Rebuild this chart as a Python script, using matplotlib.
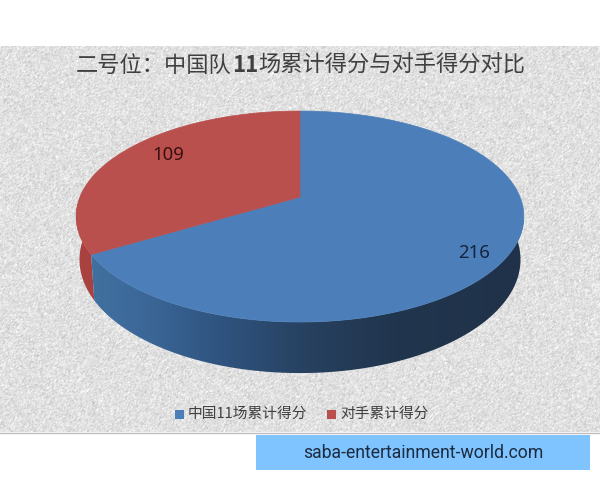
import numpy as np
import matplotlib
matplotlib.use('Agg')
import matplotlib.pyplot as plt
from matplotlib.colors import LinearSegmentedColormap
from matplotlib.patches import Polygon, Rectangle

plt.rcParams['font.family'] = ['Noto Sans CJK SC', 'DejaVu Sans']

# data
names = ['中国11场累计得分', '对手累计得分']
values = [216, 109]
title_parts = ['二号位：中国队', '11', '场累计得分与对手得分对比']
watermark = 'saba-entertainment-world.com'

top_colors = ['#4c7fb9', '#b9504e']

# pie projection, in pixels
cx, cy = 300, 197
rx, ry, k = 220, 101.9, 0.185
depth = 41.6


def rim(t, d=0.0, shrink=1.0):
    # t is clockwise from 12 o'clock, perspective makes the back smaller
    u, v = np.sin(t), np.cos(t)
    w = 1 + k * v
    return np.column_stack([cx + shrink * rx * u / w, cy + (d - ry * v) / w])


fig = plt.figure(figsize=(6, 4.8), dpi=100)
ax = fig.add_axes([0, 0, 1, 1])

# paper texture of the background
rng = np.random.default_rng(3)
noise = rng.normal(0, 15, (386, 600))
noise = (noise + np.roll(noise, 1, axis=0) + np.roll(noise, 1, axis=1)) / 3
noise = noise + 224
ax.imshow(noise, cmap='gray', vmin=0, vmax=255, extent=[0, 600, 432, 46],
          aspect='auto', interpolation='bilinear', zorder=0)
ax.plot([0, 600], [432.5, 432.5], color='#bdbdbd', lw=1, zorder=1)

edges = np.cumsum([0] + values) / sum(values) * 2 * np.pi

# side wall, red part first
t = np.linspace(edges[1], np.radians(285), 60)
ax.add_patch(Polygon(np.vstack([rim(t), rim(t, depth, 0.985)[::-1]]), fc='#a8413f', ec='none', zorder=2))

t = np.linspace(np.radians(70), edges[1], 150)
side = Polygon(np.vstack([rim(t), rim(t, depth, 0.985)[::-1]]), fc='none', ec='none', zorder=3)
ax.add_patch(side)
side_cmap = LinearSegmentedColormap.from_list('side', [
    (0.0, '#41719f'), (0.12, '#3c6899'), (0.3, '#2f5480'), (0.5, '#27415f'),
    (0.7, '#21354e'), (1.0, '#1f3249')])
grad = ax.imshow(np.linspace(1, 0, 256)[None, :], cmap=side_cmap.reversed(), extent=[88, 526, 380, 220],
                 aspect='auto', zorder=3)
grad.set_clip_path(side)

# top of the pie
for i in range(len(values)):
    t = np.linspace(edges[i], edges[i + 1], 200)
    ax.add_patch(Polygon(np.vstack([[cx, cy], rim(t)]), fc=top_colors[i], ec=top_colors[i], lw=0.5, zorder=4))

# data labels
ax.text(474, 253, str(values[0]), color='#14233f', fontsize=13.4, family='Noto Sans',
        ha='center', va='center', zorder=5)
ax.text(168, 155, str(values[1]), color='#3a1010', fontsize=13.4, family='Noto Sans',
        ha='center', va='center', zorder=5)

# title, the number is bold
fig.canvas.draw()
rend = fig.canvas.get_renderer()
x = 76
for i, part in enumerate(title_parts):
    txt = ax.text(x, 65, part, fontsize=16, color='#404040', va='center', ha='left',
                  fontweight='bold' if i == 1 else 'normal', zorder=5)
    x += txt.get_window_extent(rend).width

# legend
ax.add_patch(Rectangle((175, 410), 8.5, 8.5, fc=top_colors[0], ec='none', zorder=5))
ax.text(188, 414, names[0], fontsize=10.6, color='#404040', va='center', ha='left', zorder=5)
ax.add_patch(Rectangle((327, 410), 8.5, 8.5, fc=top_colors[1], ec='none', zorder=5))
ax.text(340, 414, names[1], fontsize=10.6, color='#404040', va='center', ha='left', zorder=5)

# banner under the chart
ax.add_patch(Rectangle((256, 435), 334, 35, fc='#80c4ff', ec='none', zorder=5))
ax.text(303, 452.5, watermark, fontsize=12.7, color='#1c2b3f', family='Roboto',
        va='center', ha='left', zorder=6)

ax.set_xlim(0, 600)
ax.set_ylim(480, 0)
ax.axis('off')
fig.savefig('out.png', dpi=100, facecolor='white')
